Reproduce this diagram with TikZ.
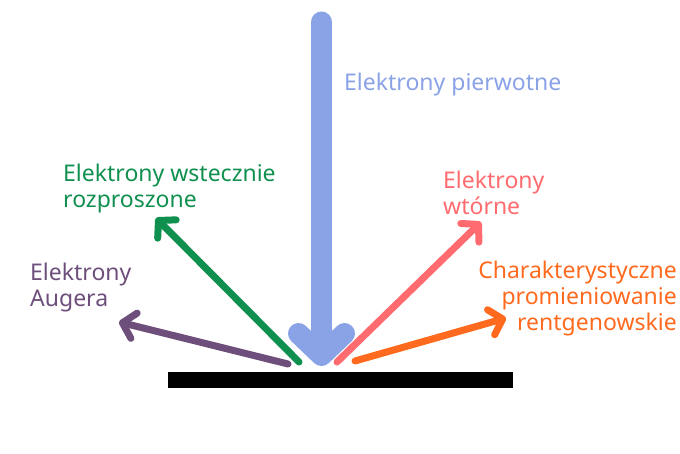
\documentclass[tikz,border=0pt]{standalone}
\usepackage{fontspec}
\setmainfont{Noto Sans}
\usepackage{xcolor}
\usepackage{tikz}
\usetikzlibrary{arrows.meta, positioning}
\definecolor{niebieski}{HTML}{8AA2E6}
\definecolor{zielony}{HTML}{10904F}
\definecolor{fiolet}{HTML}{6E4F7B}
\definecolor{rozowy}{HTML}{FF6B6E}
\definecolor{pomarancz}{HTML}{FF6A1E}

\begin{document}
\begin{tikzpicture}[
    x=1pt, y=-1pt,
    etykieta/.style={inner sep=0pt, font=\fontsize{23}{26}\selectfont},
    strzalka/.style={-{Straight Barb[length=12pt, width=26pt, round]}, line width=7pt, line cap=round},
    gruba/.style={-{Straight Barb[length=22pt, width=46pt, round]}, line width=21pt, line cap=round}
]
    \useasboundingbox (0,0) rectangle (680,454);

    \node[fill=black, inner sep=0pt, minimum width=345pt, minimum height=16pt] (probka) at (340.5,380) {};

    \coordinate (zrodlo) at (321.5,22);
    \coordinate (trafienie) at (321.5,366);
    \coordinate (wsteczne) at (299,362);
    \coordinate (wsteczneK) at (156,218);
    \coordinate (auger) at (288,364);
    \coordinate (augerK) at (119,322);
    \coordinate (wtorne) at (337,362);
    \coordinate (wtorneK) at (481,222);
    \coordinate (rtg) at (355,361);
    \coordinate (rtgK) at (506,318);

    \draw[gruba, niebieski] (zrodlo) -- (trafienie);
    \draw[strzalka, zielony] (wsteczne) -- (wsteczneK);
    \draw[strzalka, fiolet] (auger) -- (augerK);
    \draw[strzalka, rozowy] (wtorne) -- (wtorneK);
    \draw[strzalka, pomarancz] (rtg) -- (rtgK);

    \node[etykieta, text=niebieski, anchor=base west] (pierwotneL) at (344,91) {Elektrony pierwotne};
    \node[etykieta, text=zielony, anchor=north west, align=left] (wsteczneL) at (63,164) {Elektrony wstecznie\\rozproszone};
    \node[etykieta, text=fiolet, anchor=north west, align=left] (augerL) at (30,263) {Elektrony\\Augera};
    \node[etykieta, text=rozowy, anchor=north west, align=left] (wtorneL) at (443,171) {Elektrony\\wtórne};
    \node[etykieta, text=pomarancz, anchor=north east, align=right] (rtgL) at (677,261) {Charakterystyczne\\promieniowanie\\rentgenowskie};
\end{tikzpicture}
\end{document}
